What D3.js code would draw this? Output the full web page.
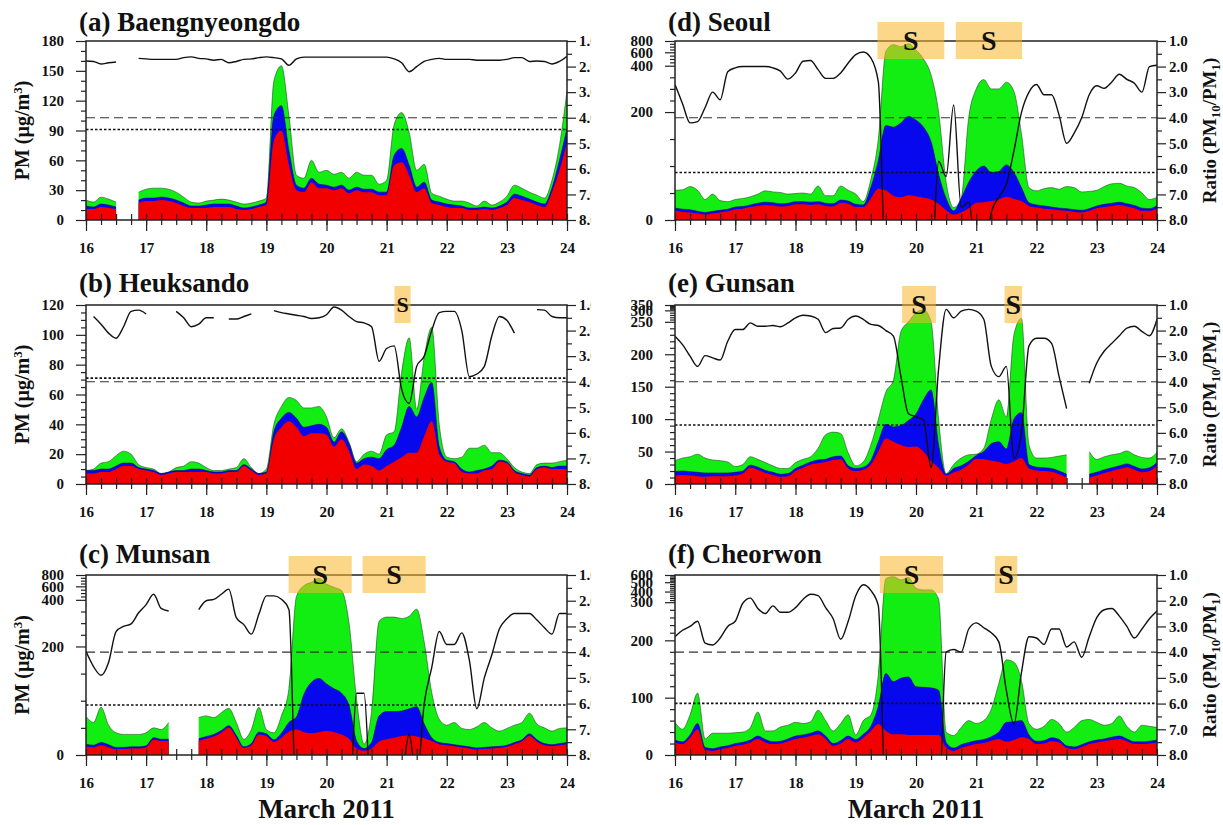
<!DOCTYPE html>
<html>
<head>
<meta charset="utf-8">
<script src="https://cdn.jsdelivr.net/npm/d3@7/dist/d3.min.js"></script>
<style>
  body { margin: 0; background: #fff; }
  svg { display: block; font-family: "Liberation Serif", "Times New Roman", serif; font-weight: bold; }
</style>
</head>
<body>
<svg id="chart" width="1223" height="825"></svg>
<script>
const COLS = [{ left: 86, right: 567 }, { left: 675, right: 1157 }];
const ROWS = [{ top: 41, bottom: 220 }, { top: 305, bottom: 484 }, { top: 575, bottom: 755 }];
const TITLE_BASE = [31, 292, 563];

const RED = "#f20000";
const BLUE = "#0808ee";
const GREEN = "#12ee12";

// 3-hourly samples, 16 to 24 March 2011
const times = d3.range(65).map((i) => 16 + i / 8);
const dayTicks = [16, 17, 18, 19, 20, 21, 22, 23, 24];
const ratioTicks = [1, 2, 3, 4, 5, 6, 7, 8];

// (a) Baengnyeongdo
const baengPm1 = [11,11,13,12,11,null,null,17,19,19, 20,19,17,14,12,12,12,13,13,13, 11,10,11,13,15,80,90,55,30,28, 38,32,32,30,32,27,30,28,28,25, 25,55,58,45,28,32,17,15,13,12, 12,10,10,11,10,12,15,22,20,18, 15,13,28,50,78];
const baengPm25 = [14,13,16,15,13,null,null,20,22,22, 23,22,20,17,14,14,15,16,16,16, 14,12,13,15,18,105,115,70,35,32, 42,36,35,33,35,30,33,31,31,28, 28,65,72,55,33,38,20,18,16,15, 14,12,12,13,12,14,18,26,24,21, 18,16,32,60,92];
const baengPm10 = [20,18,23,21,18,null,null,28,31,32, 32,31,28,23,18,17,19,20,21,20, 18,16,17,19,22,140,155,105,45,42, 60,48,50,46,48,42,48,45,45,36, 40,96,108,88,50,56,27,24,21,19, 19,17,14,19,15,18,24,35,32,28, 25,22,40,75,130];
const baengRatio = [1.78,1.8,1.9,1.85,1.82,null,null,1.68,1.7,1.72, 1.72,1.72,1.72,1.65,1.62,1.68,1.7,1.75,1.72,1.85, 1.8,1.72,1.7,1.65,1.62,1.65,1.7,1.95,1.7,1.63, 1.63,1.63,1.63,1.63,1.63,1.63,1.63,1.63,1.63,1.63, 1.63,1.7,1.85,2.2,2.0,1.8,1.72,1.68,1.72,1.72, 1.72,1.72,1.75,1.75,1.75,1.75,1.72,1.65,1.65,1.8, 1.78,1.8,1.9,1.8,1.6];

// (b) Heuksando
const heukPm1 = [7,7,8,8,10,12,12,10,9,8, 6,7,8,8,8,8,8,7,7,8, 8,12,9,6,7,30,38,42,38,32, 34,34,33,25,30,22,10,13,12,9, 12,15,18,21,21,32,42,20,15,14, 8,7,7,9,10,15,14,8,6,5, 10,11,10,10,10];
const heukPm25 = [9,9,10,10,12,14,14,11,10,9, 7,8,9,9,10,10,9,8,8,9, 9,13,10,7,8,35,44,48,44,38, 39,40,38,28,35,27,14,17,18,17, 23,26,38,52,45,58,68,25,16,15, 10,8,9,10,12,16,15,9,7,6, 11,12,11,12,12];
const heukPm10 = [9,10,14,15,19,22,20,13,11,10, 7,8,11,12,15,14,11,9,9,10, 11,17,11,7,10,40,52,58,56,51, 51,52,45,31,37,28,15,20,22,20, 33,35,75,98,50,85,105,40,18,17, 18,24,24,26,21,21,17,11,8,7, 13,14,14,15,16];
const heukRatio = [null,1.45,1.75,2.1,2.3,1.85,1.25,1.2,1.35,null, null,null,1.25,1.5,1.85,1.75,1.5,1.5,null,1.55, 1.55,1.45,1.35,null,null,1.22,1.3,1.35,1.4,1.45, 1.53,1.5,1.38,1.08,1.2,1.45,1.65,1.7,1.85,3.2, 2.7,2.6,4.3,4.85,3.4,3.0,2.0,1.3,1.25,1.25, 2.0,3.8,3.7,3.4,2.2,1.45,1.6,2.1,null,null, 1.18,1.2,1.45,1.5,1.5];

// (c) Munsan
const munsanPm1 = [15,14,18,14,11,11,12,12,14,28, 26,26,null,null,null,26,30,34,41,50, 32,13,18,38,35,24,32,43,47,42, 40,42,44,42,38,30,12,8,12,25, 29,32,35,36,34,31,26,20,18,16, 14,12,10,11,12,13,15,20,25,35, 25,18,16,18,20];
const munsanPm25 = [20,18,23,19,14,14,15,15,17,32, 29,29,null,null,null,30,34,38,45,54, 36,15,21,42,39,28,40,60,70,112, 134,141,131,122,114,91,26,12,23,72, 80,80,81,85,89,57,32,23,21,19, 17,15,13,14,15,16,18,23,28,39, 28,21,19,21,23];
const munsanPm10 = [71,60,88,55,41,38,38,38,41,50, 47,60,null,null,null,69,72,69,78,86, 60,29,47,88,47,41,72,122,450,612, 670,740,640,585,537,300,103,20,80,308, 326,326,320,330,360,219,115,66,55,60, 49,47,52,60,50,44,49,55,60,77, 57,50,44,49,50];
const munsanRatio = [3.97,4.56,4.9,4.4,3.2,3.0,2.9,2.47,2.15,1.75, 2.3,2.4,null,null,null,2.35,2.0,1.95,1.75,1.55, 2.66,2.93,3.3,2.53,1.81,1.81,1.94,2.34,10,10, 10,10,10,10,10,10,5.6,5.6,10,10, 10,10,9,7.2,9,6.0,4.6,3.2,3.7,3.7, 3.25,4.3,6.2,5.0,4.1,3.1,2.7,2.5,2.5,2.5, 2.75,3.05,3.3,2.5,2.5];

// (d) Seoul
const seoulPm1 = [17,15,14,12,10,12,14,16,20,21, 24,26,28,27,25,26,29,29,28,29, 26,25,32,30,24,24,40,58,55,45, 42,46,44,41,38,30,18,10,14,22, 32,33,35,38,43,39,35,26,23,21, 20,18,17,15,14,17,22,24,26,28, 25,22,17,17,22];
const seoulPm25 = [22,20,19,16,14,16,18,20,24,25, 28,31,33,32,30,31,34,34,33,34, 31,30,37,35,29,28,60,110,175,172, 180,192,185,172,145,85,40,17,40,70, 91,100,88,90,102,88,60,32,28,26, 24,22,21,19,18,21,26,29,31,33, 30,27,22,21,27];
const seoulPm10 = [55,56,62,55,38,48,36,34,38,40, 43,48,54,52,51,48,49,50,48,63, 45,45,63,55,48,34,75,150,620,735, 700,750,640,500,360,200,70,23,40,190, 300,340,300,300,329,290,160,60,54,58, 60,57,62,60,52,53,55,62,67,68, 63,60,50,38,42];
const seoulRatio = [2.7,3.45,4.2,4.15,3.6,3.0,3.3,2.2,2.05,2.0, 2.0,2.0,2.0,2.05,2.18,2.49,2.25,1.79,1.76,2.12, 2.46,2.46,2.25,1.86,1.53,1.43,1.66,2.6,10,10, 10,10,10,10,10,5.7,6.3,3.5,7.5,7.3, 9.5,10,7.7,7.1,6.6,5.3,3.8,3.0,2.7,3.1, 3.1,3.9,5.0,4.6,4.0,3.1,2.75,2.85,2.6,2.3, 2.5,2.65,3.0,2.0,1.95];

// (e) Gunsan
const gunsanPm1 = [13,14,13,12,11,12,12,12,13,16, 25,22,17,14,11,12,20,25,30,32, 34,37,38,24,20,22,30,50,70,65, 60,57,58,50,35,25,13,18,22,30, 39,38,36,34,31,35,40,24,21,20, 19,15,10,null,null,10,13,17,20,23, 26,22,18,20,28];
const gunsanPm25 = [19,20,19,18,17,17,17,17,18,20, 29,26,21,18,15,16,24,29,34,37, 38,42,43,28,24,26,36,65,92,88, 90,98,108,130,145,60,15,24,28,35, 44,50,62,65,54,100,110,30,26,25, 24,20,15,null,null,15,18,22,25,28, 31,27,23,25,33];
const gunsanPm10 = [36,40,42,46,40,37,36,34,27,30, 42,38,33,28,24,24,33,38,42,55, 76,80,78,48,28,34,60,100,142,160, 235,250,290,305,250,100,16,30,40,45, 46,55,100,130,103,230,265,60,40,40, 41,43,45,null,null,50,38,42,45,47, 51,45,41,40,49];
const gunsanRatio = [2.22,2.55,3.0,3.4,2.98,3.07,3.15,2.42,1.96,1.96, 1.7,1.83,1.83,1.8,1.85,1.7,1.5,1.4,1.43,1.56, 2.08,1.92,1.9,1.56,1.43,1.56,1.76,1.8,2.0,2.22, 3.8,5.25,5.37,5.5,7.35,3.5,1.17,1.5,1.24,1.17, 1.24,1.56,3.4,3.8,3.4,7.0,6.0,2.6,2.3,2.3, 2.5,3.8,5.05,null,null,4.06,3.27,2.8,2.5,2.2, 1.9,1.83,2.03,2.2,1.56];

// (f) Cheorwon
const cheorPm1 = [22,19,30,45,9,7,10,12,16,18, 22,28,22,19,20,24,28,30,33,36, 28,16,20,28,22,30,42,54,42,36, 36,35,35,35,35,35,13,7,12,16, 19,21,25,28,23,26,31,28,19,20, 24,22,12,10,14,19,22,24,26,28, 24,19,19,20,22];
const cheorPm25 = [26,23,35,55,13,11,14,16,20,22, 26,33,27,23,24,28,33,35,38,42, 33,20,25,33,27,36,50,85,142,128, 134,136,119,118,117,113,22,12,18,22, 25,27,32,40,57,58,60,35,24,25, 30,27,16,14,18,23,26,28,31,33, 28,23,23,24,26];
const cheorPm10 = [57,45,70,108,28,38,38,38,39,40, 48,75,42,42,49,52,57,55,58,78, 60,42,55,70,35,60,70,140,550,577, 532,564,436,418,418,330,40,34,48,60, 55,60,80,125,166,162,130,55,45,50, 62,55,40,48,60,62,57,52,55,68, 50,40,52,50,48];
const cheorRatio = [3.4,3.15,3.0,2.8,3.65,3.72,3.45,3.0,2.8,2.1, 1.9,2.3,2.5,2.2,2.45,2.45,2.27,1.95,1.75,1.8, 2.27,2.7,3.5,2.8,1.81,1.38,1.6,2.2,10,10, 10,10,10,10,10,10,4.0,3.9,4.0,3.1, 2.86,3.05,3.25,3.6,5.5,6.8,4.8,3.4,3.45,3.7, 3.1,3.1,3.8,3.6,4.2,3.4,2.66,2.35,2.3,2.6, 3.0,3.45,3.1,2.7,2.4];

// PM threshold (dotted) per station; dashed line is the ratio 4.0 level
const dottedPm = [91, 71, 92, 88, 91, 90];

const panels = [
  { key: "a", title: "(a) Baengnyeongdo", col: 0, row: 0, pm1: baengPm1, pm25: baengPm25, pm10: baengPm10, ratio: baengRatio,
    yBreaks: [0, 180], yFracs: [0, 1], yLabels: [0, 30, 60, 90, 120, 150, 180], yMinor: 10, boxes: [] },
  { key: "b", title: "(b) Heuksando", col: 0, row: 1, pm1: heukPm1, pm25: heukPm25, pm10: heukPm10, ratio: heukRatio,
    yBreaks: [0, 120], yFracs: [0, 1], yLabels: [0, 20, 40, 60, 80, 100, 120], yMinor: 5,
    boxes: [{ t0: 21.13, t1: 21.4, size: 22 }] },
  { key: "c", title: "(c) Munsan", col: 0, row: 2, pm1: munsanPm1, pm25: munsanPm25, pm10: munsanPm10, ratio: munsanRatio,
    yBreaks: [0, 200, 400, 600, 800], yFracs: [0, 0.603, 0.862, 0.937, 1], yLabels: [0, 200, 400, 600, 800], yMinor: 50,
    boxes: [{ t0: 19.37, t1: 20.42, size: 28 }, { t0: 20.6, t1: 21.65, size: 28 }] },
  { key: "d", title: "(d) Seoul", col: 1, row: 0, pm1: seoulPm1, pm25: seoulPm25, pm10: seoulPm10, ratio: seoulRatio,
    yBreaks: [0, 200, 400, 600, 800], yFracs: [0, 0.603, 0.862, 0.937, 1], yLabels: [0, 200, 400, 600, 800], yMinor: 50,
    boxes: [{ t0: 19.36, t1: 20.47, size: 28 }, { t0: 20.66, t1: 21.76, size: 28 }] },
  { key: "e", title: "(e) Gunsan", col: 1, row: 1, pm1: gunsanPm1, pm25: gunsanPm25, pm10: gunsanPm10, ratio: gunsanRatio,
    yBreaks: [0, 250, 300, 350], yFracs: [0, 0.906, 0.97, 1], yLabels: [0, 50, 100, 150, 200, 250, 300, 350], yMinor: 10,
    boxes: [{ t0: 19.77, t1: 20.33, size: 28 }, { t0: 21.47, t1: 21.76, size: 28 }] },
  { key: "f", title: "(f) Cheorwon", col: 1, row: 2, pm1: cheorPm1, pm25: cheorPm25, pm10: cheorPm10, ratio: cheorRatio,
    yBreaks: [0, 200, 300, 400, 500, 600], yFracs: [0, 0.637, 0.849, 0.908, 0.96, 1], yLabels: [0, 100, 200, 300, 400, 500, 600], yMinor: 20,
    boxes: [{ t0: 19.4, t1: 20.45, size: 28 }, { t0: 21.31, t1: 21.68, size: 28 }] },
];

const svg = d3.select("#chart");
const defs = svg.append("defs");

function styleAxis(sel, fontSize) {
  sel.attr("font-family", null).attr("font-size", fontSize).attr("font-weight", "bold");
  sel.select(".domain").remove();
  sel.selectAll("line").attr("stroke", "#222").attr("stroke-width", 1.2);
  sel.selectAll("text").attr("fill", "#111");
}

function drawPanel(p, idx) {
  const col = COLS[p.col];
  const row = ROWS[p.row];
  const h = row.bottom - row.top;

  const x = d3.scaleLinear().domain([16, 24]).range([col.left, col.right]);
  const y = d3.scaleLinear().domain(p.yBreaks).range(p.yFracs.map((f) => row.bottom - f * h));
  const r = d3.scaleLinear().domain([1, 8]).range([row.top, row.bottom]);

  const g = svg.append("g").attr("class", `panel-${p.key}`);

  defs.append("clipPath").attr("id", `clip-${p.key}`)
    .append("rect")
    .attr("x", col.left).attr("y", row.top)
    .attr("width", col.right - col.left).attr("height", h);

  const plot = g.append("g").attr("clip-path", `url(#clip-${p.key})`);
  const series = (vals) => times.map((t, i) => ({ t, v: vals[i] }));

  const area = d3.area()
    .defined((d) => d.v != null)
    .x((d) => x(d.t))
    .y0(row.bottom)
    .y1((d) => y(d.v))
    .curve(d3.curveMonotoneX);
  const topLine = d3.line()
    .defined((d) => d.v != null)
    .x((d) => x(d.t))
    .y((d) => y(d.v))
    .curve(d3.curveMonotoneX);

  [[p.pm10, GREEN, "#2b3b2b"], [p.pm25, BLUE, "#000070"], [p.pm1, RED, null]].forEach(([vals, fill, edge]) => {
    plot.append("path").datum(series(vals)).attr("d", area).attr("fill", fill);
    if (edge) {
      plot.append("path").datum(series(vals)).attr("d", topLine)
        .attr("fill", "none").attr("stroke", edge).attr("stroke-width", 0.8).attr("stroke-opacity", 0.7);
    }
  });

  // threshold lines
  plot.append("line")
    .attr("x1", col.left).attr("x2", col.right)
    .attr("y1", r(4)).attr("y2", r(4))
    .attr("stroke", "#333").attr("stroke-width", 1.1).attr("stroke-dasharray", "9,5");
  plot.append("line")
    .attr("x1", col.left).attr("x2", col.right)
    .attr("y1", y(dottedPm[idx])).attr("y2", y(dottedPm[idx]))
    .attr("stroke", "#111").attr("stroke-width", 1.6).attr("stroke-dasharray", "2.5,2");

  // PM10/PM1 ratio
  const ratioLine = d3.line()
    .defined((d) => d.v != null)
    .x((d) => x(d.t))
    .y((d) => r(d.v))
    .curve(d3.curveMonotoneX);
  plot.append("path").datum(series(p.ratio)).attr("d", ratioLine)
    .attr("fill", "none").attr("stroke", "#111").attr("stroke-width", 1.4);

  // frame
  g.append("rect")
    .attr("x", col.left).attr("y", row.top)
    .attr("width", col.right - col.left).attr("height", h)
    .attr("fill", "none").attr("stroke", "#222").attr("stroke-width", 1.5);

  // bottom axis: major ticks crossing the axis, minor ticks at 6 h
  const quarterTicks = d3.range(16, 24.001, 0.25);
  g.append("g").attr("transform", `translate(0,${row.bottom})`)
    .call(d3.axisBottom(x).tickValues(dayTicks).tickSizeInner(11).tickSizeOuter(0).tickFormat(d3.format("d")))
    .call((s) => styleAxis(s, 15))
    .call((s) => s.selectAll("text").attr("y", 33).attr("dy", null));
  g.append("g").attr("transform", `translate(0,${row.bottom})`)
    .call(d3.axisBottom(x).tickValues(quarterTicks).tickSizeInner(5).tickSizeOuter(0).tickFormat(""))
    .call((s) => styleAxis(s, 15));
  g.append("g").attr("transform", `translate(0,${row.bottom})`)
    .call(d3.axisTop(x).tickValues(quarterTicks).tickSizeInner(6).tickSizeOuter(0).tickFormat(""))
    .call((s) => styleAxis(s, 15));

  // left PM axis
  const yMax = p.yBreaks[p.yBreaks.length - 1];
  const minors = d3.range(0, yMax, p.yMinor).filter((v) => !p.yLabels.includes(v));
  g.append("g").attr("transform", `translate(${col.left},0)`)
    .call(d3.axisLeft(y).tickValues(p.yLabels).tickSizeInner(10).tickSizeOuter(0).tickPadding(12).tickFormat(d3.format("d")))
    .call((s) => styleAxis(s, 15));
  g.append("g").attr("transform", `translate(${col.left},0)`)
    .call(d3.axisLeft(y).tickValues(minors).tickSizeInner(5).tickSizeOuter(0).tickFormat(""))
    .call((s) => styleAxis(s, 15));

  // right ratio axis
  const right = g.append("g").attr("transform", `translate(${col.right},0)`)
    .call(d3.axisRight(r).tickValues(ratioTicks).tickSizeInner(9).tickSizeOuter(0).tickPadding(3).tickFormat(d3.format(".1f")))
    .call((s) => styleAxis(s, 15));
  if (p.col === 0) right.attr("clip-path", "url(#clip-leftcol)");
  g.append("g").attr("transform", `translate(${col.right},0)`)
    .call(d3.axisRight(r).tickValues(d3.range(1.5, 8, 1)).tickSizeInner(5).tickSizeOuter(0).tickFormat(""))
    .call((s) => styleAxis(s, 15));

  // dust storm markers
  p.boxes.forEach((b) => {
    const bx0 = x(b.t0);
    const bx1 = x(b.t1);
    g.append("rect")
      .attr("x", bx0).attr("y", row.top - 19)
      .attr("width", bx1 - bx0).attr("height", 37)
      .attr("fill", "rgb(250,180,40)").attr("fill-opacity", 0.55);
    g.append("text")
      .attr("x", (bx0 + bx1) / 2).attr("y", row.top + b.size * 0.33)
      .attr("text-anchor", "middle")
      .attr("font-size", b.size).attr("fill", "#111")
      .text("S");
  });

  // titles and axis labels
  g.append("text")
    .attr("x", col.left - 7).attr("y", TITLE_BASE[p.row])
    .attr("font-size", 27).attr("fill", "#111")
    .text(p.title);

  const midY = (row.top + row.bottom) / 2;
  if (p.col === 0) {
    const lab = g.append("text")
      .attr("transform", `translate(29,${midY}) rotate(-90)`)
      .attr("text-anchor", "middle").attr("font-size", 20).attr("fill", "#111");
    lab.append("tspan").text("PM (\u00b5g/m");
    lab.append("tspan").attr("font-size", 13).attr("dy", -7).text("3");
    lab.append("tspan").attr("dy", 7).text(")");
  } else {
    const lab = g.append("text")
      .attr("transform", `translate(1216,${midY}) rotate(-90)`)
      .attr("text-anchor", "middle").attr("font-size", 19).attr("fill", "#111");
    lab.append("tspan").text("Ratio (PM");
    lab.append("tspan").attr("font-size", 13).attr("dy", 4).text("10");
    lab.append("tspan").attr("dy", -4).text("/PM");
    lab.append("tspan").attr("font-size", 13).attr("dy", 4).text("1");
    lab.append("tspan").attr("dy", -4).text(")");
  }
}

// left column: ratio labels cut at the column edge, as in the source figure
defs.append("clipPath").attr("id", "clip-leftcol")
  .append("rect").attr("x", -600).attr("y", 0).attr("width", 591 - 567 + 600).attr("height", 825);

panels.forEach(drawPanel);

[0, 1].forEach((c) => {
  svg.append("text")
    .attr("x", (COLS[c].left + COLS[c].right) / 2).attr("y", 818)
    .attr("text-anchor", "middle").attr("font-size", 27).attr("fill", "#111")
    .text("March 2011");
});
</script>
</body>
</html>
